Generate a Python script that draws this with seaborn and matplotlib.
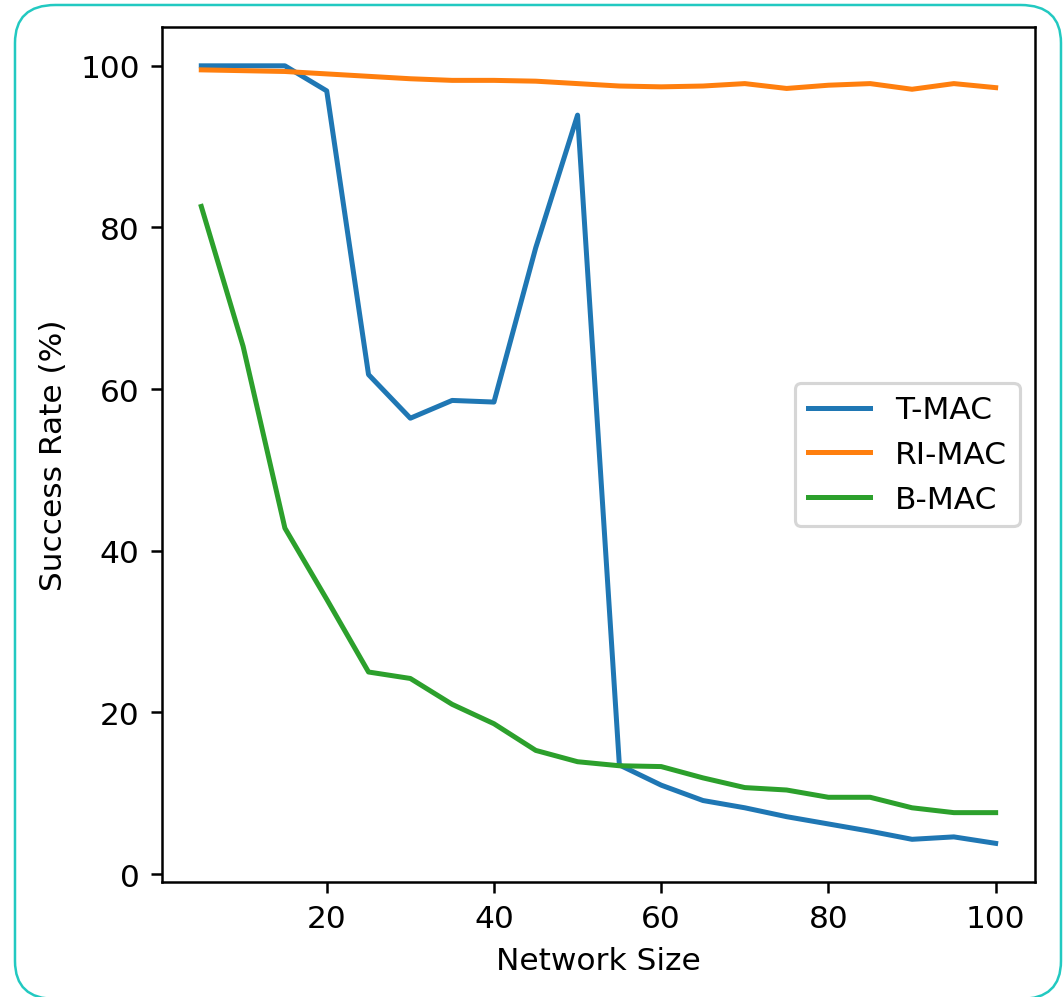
import pandas as pd
import matplotlib.pyplot as plt
import seaborn as sns
from matplotlib.patches import FancyBboxPatch

# network sizes
sizes = [5, 10, 15, 20, 25, 30, 35, 40, 45, 50, 55, 60, 65, 70, 75, 80, 85, 90, 95, 100]

# success rates (%)
t_mac = [100, 100, 100, 96.9, 61.8, 56.4, 58.6, 58.4, 77.5, 93.9,
         13.5, 11.0, 9.1, 8.2, 7.1, 6.2, 5.3, 4.3, 4.6, 3.8]
ri_mac = [99.5, 99.4, 99.3, 99.0, 98.7, 98.4, 98.2, 98.2, 98.1, 97.8,
          97.5, 97.4, 97.5, 97.8, 97.2, 97.6, 97.8, 97.1, 97.8, 97.3]
b_mac = [82.6, 65.3, 42.8, 34.0, 25.0, 24.2, 21.0, 18.6, 15.3, 13.9,
         13.4, 13.3, 11.9, 10.7, 10.4, 9.5, 9.5, 8.2, 7.6, 7.6]

protocols = ['T-MAC', 'RI-MAC', 'B-MAC']
colors = ['#1f77b4', '#ff7f0e', '#2ca02c']

df = pd.DataFrame({
    'Network Size': sizes * 3,
    'Success Rate (%)': t_mac + ri_mac + b_mac,
    'Protocol': [p for p in protocols for _ in sizes],
})

fig = plt.figure(figsize=(1063 / 225, 998 / 225), dpi=225)
ax = fig.add_axes([0.152, 0.115, 0.822, 0.857])

sns.lineplot(data=df, x='Network Size', y='Success Rate (%)', hue='Protocol',
             hue_order=protocols, palette=colors, linewidth=1.6, ax=ax)
ax.legend(loc='center right', title=None)

# rounded teal frame around the picture (bottom edge runs just off the image)
frame = FancyBboxPatch((0.0141, -0.002), 0.984, 0.996,
                       boxstyle='round,pad=0,rounding_size=0.038',
                       transform=fig.transFigure, fill=False,
                       edgecolor='#22c9c1', linewidth=0.8, zorder=-1)
fig.patches.append(frame)

fig.savefig('out.png', dpi=225)
